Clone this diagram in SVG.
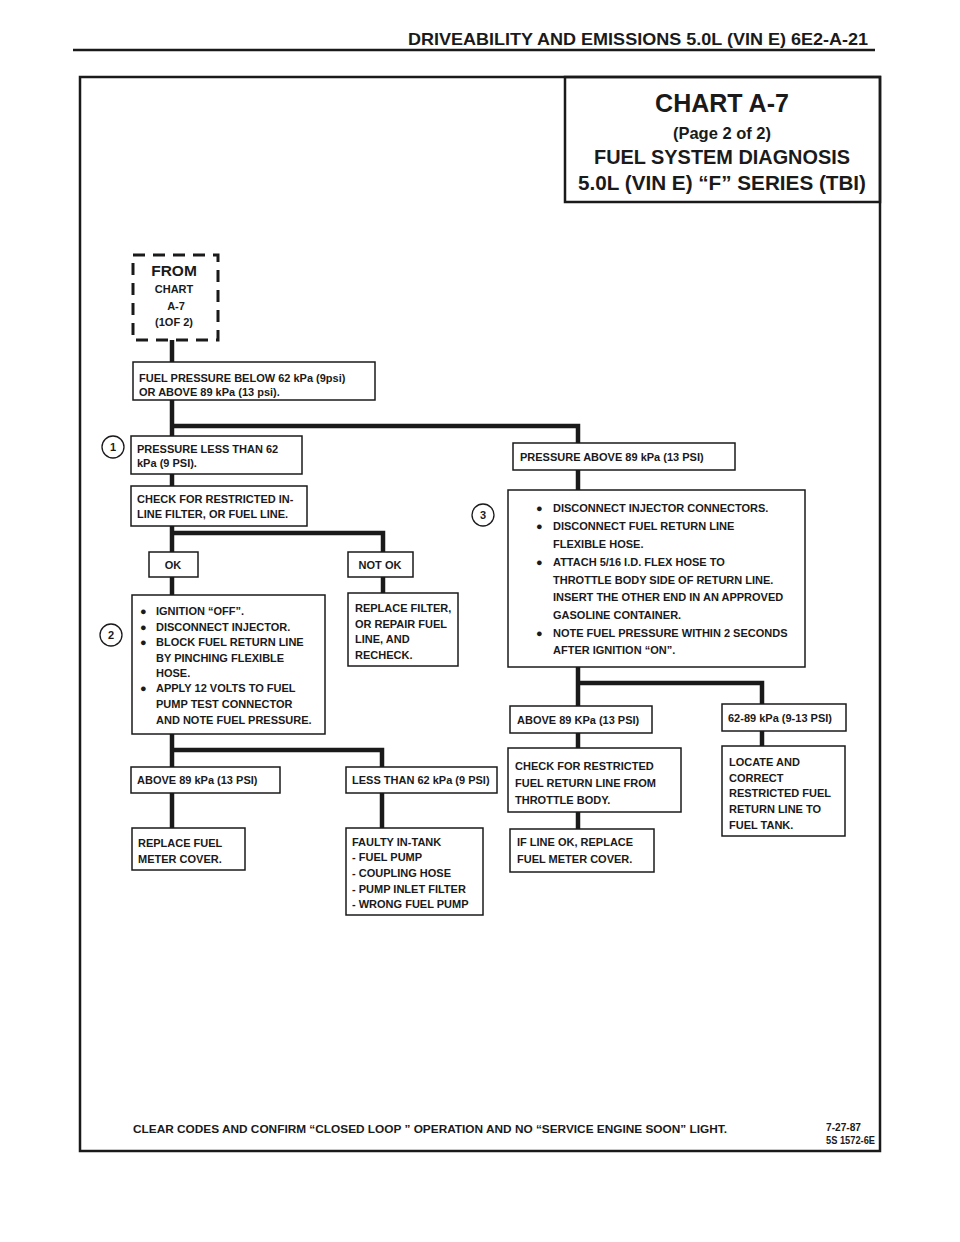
<svg xmlns="http://www.w3.org/2000/svg" width="960" height="1242" viewBox="0 0 960 1242">
<style>
text{font-family:"Liberation Sans",Arial,sans-serif;font-weight:700;fill:#1a1a1a}
.t{font-size:11px}
.box{fill:#fff;stroke:#1a1a1a;stroke-width:1.5}
.wire{fill:none;stroke:#1a1a1a;stroke-width:4.5;stroke-linejoin:miter;stroke-linecap:butt}
.frame{fill:none;stroke:#1a1a1a;stroke-width:2.5}
.circ{fill:#fff;stroke:#1a1a1a;stroke-width:1.3}
.c{text-anchor:middle}
</style>
<rect width="960" height="1242" fill="#fff"/>
<g id="page-header">
<text x="868" y="45" font-size="16.5" text-anchor="end" textLength="460" lengthAdjust="spacingAndGlyphs">DRIVEABILITY AND EMISSIONS  5.0L  (VIN E)  6E2-A-21</text>
<line x1="73" y1="50" x2="875" y2="50" stroke="#1a1a1a" stroke-width="2.5"/>
</g>
<g id="frame">
<rect class="frame" x="80" y="77" width="800" height="1074"/>
</g>
<g id="title">
<rect class="frame" x="565" y="77" width="315" height="125"/>
<text class="c" x="722" y="112" font-size="25">CHART A-7</text>
<text class="c" x="722" y="139" font-size="16.5">(Page 2 of 2)</text>
<text class="c" x="722" y="164" font-size="20" textLength="256" lengthAdjust="spacingAndGlyphs">FUEL SYSTEM DIAGNOSIS</text>
<text class="c" x="722" y="190" font-size="20" textLength="288" lengthAdjust="spacingAndGlyphs">5.0L (VIN E)  “F” SERIES  (TBI)</text>
</g>
<g id="connectors">
<polyline class="wire" points="172,340 172,362"/>
<polyline class="wire" points="172,400 172,436"/>
<polyline class="wire" points="172,426 578,426 578,443"/>
<polyline class="wire" points="172,474 172,486"/>
<polyline class="wire" points="172,526 172,552"/>
<polyline class="wire" points="172,533 383,533 383,552"/>
<polyline class="wire" points="172,577 172,595"/>
<polyline class="wire" points="383,577 383,593"/>
<polyline class="wire" points="172,734 172,767"/>
<polyline class="wire" points="172,750 382,750 382,767"/>
<polyline class="wire" points="172,793 172,828"/>
<polyline class="wire" points="382,793 382,828"/>
<polyline class="wire" points="578,470 578,490"/>
<polyline class="wire" points="578,667 578,706"/>
<polyline class="wire" points="578,683 762,683 762,704"/>
<polyline class="wire" points="578,733 578,748"/>
<polyline class="wire" points="762,731 762,746"/>
<polyline class="wire" points="578,812 578,829"/>
</g>
<g id="from">
<rect x="133" y="255" width="85" height="85" fill="#fff" stroke="#1a1a1a" stroke-width="3" stroke-dasharray="12,8"/>
<text class="c" x="174" y="276" font-size="15.5">FROM</text>
<text class="c" x="174" y="293" font-size="11">CHART</text>
<text class="c" x="176" y="310" font-size="11">A-7</text>
<text class="c" x="174" y="326" font-size="11">(1OF 2)</text>
</g>
<g id="n-fuel-pressure">
<rect class="box" x="133" y="362" width="242" height="38"/>
<text class="t" x="139" y="382">FUEL PRESSURE BELOW 62 kPa  (9psi)</text>
<text class="t" x="139" y="396">OR  ABOVE 89 kPa (13 psi).</text>
</g>
<g id="n-less-62">
<circle class="circ" cx="113" cy="447" r="11"/>
<text class="c" x="113" y="451" font-size="11">1</text>
<rect class="box" x="131" y="436" width="171" height="38"/>
<text class="t" x="137" y="453">PRESSURE LESS THAN 62</text>
<text class="t" x="137" y="467">kPa  (9 PSI).</text>
</g>
<g id="n-check-inline">
<rect class="box" x="131" y="486" width="176" height="40"/>
<text class="t" x="137" y="503">CHECK FOR RESTRICTED IN-</text>
<text class="t" x="137" y="518">LINE FILTER, OR FUEL LINE.</text>
</g>
<g id="n-ok">
<rect class="box" x="149" y="552" width="49" height="25"/>
<text class="t c" x="173" y="569">OK</text>
</g>
<g id="n-notok">
<rect class="box" x="348" y="552" width="65" height="25"/>
<text class="t c" x="380" y="569">NOT OK</text>
</g>
<g id="n-ignition">
<circle class="circ" cx="111" cy="635" r="11"/>
<text class="c" x="111" y="639" font-size="11">2</text>
<rect class="box" x="132" y="595" width="193" height="139"/>
<text class="t" x="140" y="615">●</text><text class="t" x="156" y="615">IGNITION “OFF”.</text>
<text class="t" x="140" y="631">●</text><text class="t" x="156" y="631">DISCONNECT INJECTOR.</text>
<text class="t" x="140" y="646">●</text><text class="t" x="156" y="646">BLOCK FUEL RETURN LINE</text>
<text class="t" x="156" y="662">BY PINCHING FLEXIBLE</text>
<text class="t" x="156" y="677">HOSE.</text>
<text class="t" x="140" y="692">●</text><text class="t" x="156" y="692">APPLY 12 VOLTS TO FUEL</text>
<text class="t" x="156" y="708">PUMP TEST CONNECTOR</text>
<text class="t" x="156" y="724">AND NOTE FUEL PRESSURE.</text>
</g>
<g id="n-replace-filter">
<rect class="box" x="348" y="593" width="110" height="73"/>
<text class="t" x="355" y="612">REPLACE FILTER,</text>
<text class="t" x="355" y="628">OR REPAIR FUEL</text>
<text class="t" x="355" y="643">LINE,  AND</text>
<text class="t" x="355" y="659">RECHECK.</text>
</g>
<g id="n-above89-left">
<rect class="box" x="131" y="767" width="149" height="26"/>
<text class="t" x="137" y="784">ABOVE 89 kPa  (13 PSI)</text>
</g>
<g id="n-less62-left">
<rect class="box" x="346" y="767" width="151" height="26"/>
<text class="t" x="352" y="784">LESS THAN 62 kPa (9 PSI)</text>
</g>
<g id="n-replace-cover-left">
<rect class="box" x="132" y="828" width="113" height="42"/>
<text class="t" x="138" y="847">REPLACE FUEL</text>
<text class="t" x="138" y="863">METER COVER.</text>
</g>
<g id="n-faulty">
<rect class="box" x="346" y="828" width="137" height="87"/>
<text class="t" x="352" y="846">FAULTY IN-TANK</text>
<text class="t" x="352" y="861">- FUEL PUMP</text>
<text class="t" x="352" y="877">- COUPLING HOSE</text>
<text class="t" x="352" y="893">- PUMP INLET FILTER</text>
<text class="t" x="352" y="908">- WRONG FUEL PUMP</text>
</g>
<g id="n-above89-top">
<rect class="box" x="513" y="443" width="222" height="27"/>
<text class="t" x="520" y="461">PRESSURE ABOVE 89 kPa (13 PSI)</text>
</g>
<g id="n-disconnect">
<circle class="circ" cx="483" cy="515" r="11"/>
<text class="c" x="483" y="519" font-size="11">3</text>
<rect class="box" x="508" y="490" width="297" height="177"/>
<text class="t" x="536" y="512">●</text><text class="t" x="553" y="512">DISCONNECT INJECTOR CONNECTORS.</text>
<text class="t" x="536" y="530">●</text><text class="t" x="553" y="530">DISCONNECT FUEL RETURN LINE</text>
<text class="t" x="553" y="548">FLEXIBLE HOSE.</text>
<text class="t" x="536" y="566">●</text><text class="t" x="553" y="566">ATTACH 5/16 I.D. FLEX HOSE TO</text>
<text class="t" x="553" y="584">THROTTLE BODY SIDE OF RETURN LINE.</text>
<text class="t" x="553" y="601">INSERT THE OTHER END IN AN APPROVED</text>
<text class="t" x="553" y="619">GASOLINE CONTAINER.</text>
<text class="t" x="536" y="637">●</text><text class="t" x="553" y="637">NOTE FUEL PRESSURE WITHIN 2 SECONDS</text>
<text class="t" x="553" y="654">AFTER IGNITION “ON”.</text>
</g>
<g id="n-above89-right">
<rect class="box" x="510" y="706" width="142" height="27"/>
<text class="t" x="517" y="724">ABOVE 89 KPa (13 PSI)</text>
</g>
<g id="n-62-89">
<rect class="box" x="722" y="704" width="124" height="27"/>
<text class="t" x="728" y="722">62-89 kPa   (9-13 PSI)</text>
</g>
<g id="n-check-return">
<rect class="box" x="508" y="748" width="173" height="64"/>
<text class="t" x="515" y="770">CHECK FOR RESTRICTED</text>
<text class="t" x="515" y="787">FUEL RETURN LINE FROM</text>
<text class="t" x="515" y="804">THROTTLE BODY.</text>
</g>
<g id="n-locate">
<rect class="box" x="722" y="746" width="123" height="90"/>
<text class="t" x="729" y="766">LOCATE AND</text>
<text class="t" x="729" y="782">CORRECT</text>
<text class="t" x="729" y="797">RESTRICTED FUEL</text>
<text class="t" x="729" y="813">RETURN LINE TO</text>
<text class="t" x="729" y="829">FUEL TANK.</text>
</g>
<g id="n-if-line-ok">
<rect class="box" x="510" y="829" width="144" height="43"/>
<text class="t" x="517" y="846">IF LINE OK, REPLACE</text>
<text class="t" x="517" y="863">FUEL METER COVER.</text>
</g>
<g id="footer">
<text x="133" y="1133" font-size="11" textLength="594" lengthAdjust="spacingAndGlyphs">CLEAR CODES AND CONFIRM “CLOSED LOOP ” OPERATION AND NO “SERVICE ENGINE SOON” LIGHT.</text>
<text x="826" y="1131" font-size="11" textLength="35" lengthAdjust="spacingAndGlyphs">7-27-87</text>
<text x="826" y="1144" font-size="11" textLength="49" lengthAdjust="spacingAndGlyphs">5S 1572-6E</text>
</g>
</svg>
